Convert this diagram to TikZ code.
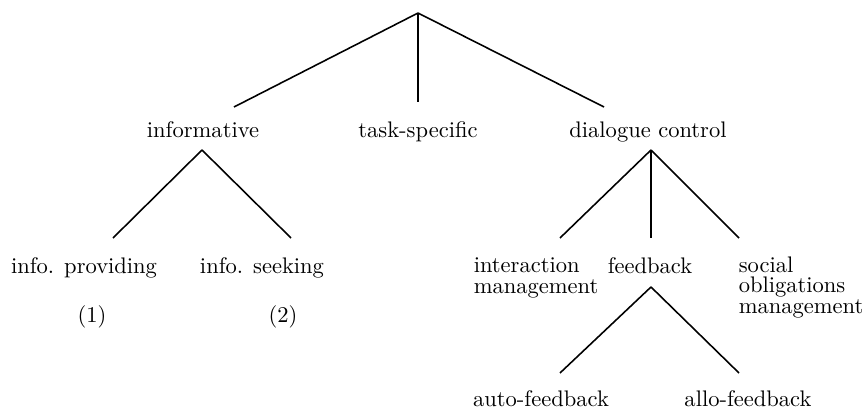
\documentclass[tikz,border=0pt]{standalone}
\usepackage{amsmath}
\usepackage{amssymb}
\usepackage{tikz}

\begin{document}
\begin{tikzpicture}[x = 0.444pt, y = -0.444pt, line width = 0.7pt,
                        cat/.style = {anchor = base, inner sep = 0pt},
                        multi/.style = {anchor = base west, align = left, inner sep = 0pt,
                                        font = \fontsize{10}{9}\selectfont}]
      \useasboundingbox (0, 0) rectangle (865, 410);

      % top level
      \coordinate (top) at (418, 13);
      \coordinate (inf-end) at (234, 107);
      \coordinate (task-end) at (418, 102);
      \coordinate (dc-end) at (604, 107);

      \node [cat] (inf) at (203, 137) {informative};
      \node [cat] (task) at (418, 137) {task-specific};
      \node [cat] (dc) at (648, 137) {dialogue control};

      \draw (top) -- (inf-end);
      \draw (top) -- (task-end);
      \draw (top) -- (dc-end);

      % informative
      \coordinate (inf-top) at (202, 150);
      \coordinate (prov-end) at (113, 238);
      \coordinate (seek-end) at (291, 238);

      \node [cat] (prov) at (84, 273) {info. providing};
      \node [cat] (seek) at (262, 273) {info. seeking};
      \node [cat] (one) at (92, 322) {(1)};
      \node [cat] (two) at (283, 322) {(2)};

      \draw (inf-top) -- (prov-end);
      \draw (inf-top) -- (seek-end);

      % dialogue control (multi-line nodes sit on their last baseline)
      \coordinate (dc-top) at (651, 150);
      \coordinate (im-end) at (560, 238);
      \coordinate (fb-end) at (651, 238);
      \coordinate (so-end) at (739, 238);

      \node [multi] (im) at (473, 293) {interaction\\management};
      \node [cat] (fb) at (650, 273) {feedback};
      \node [multi] (so) at (738, 313) {social\\obligations\\management};

      \draw (dc-top) -- (im-end);
      \draw (dc-top) -- (fb-end);
      \draw (dc-top) -- (so-end);

      % feedback
      \coordinate (fb-top) at (651, 287);
      \coordinate (auto-end) at (560, 373);
      \coordinate (allo-end) at (739, 373);

      \node [cat] (auto) at (541, 406) {auto-feedback};
      \node [cat] (allo) at (748, 406) {allo-feedback};

      \draw (fb-top) -- (auto-end);
      \draw (fb-top) -- (allo-end);
\end{tikzpicture}
\end{document}
